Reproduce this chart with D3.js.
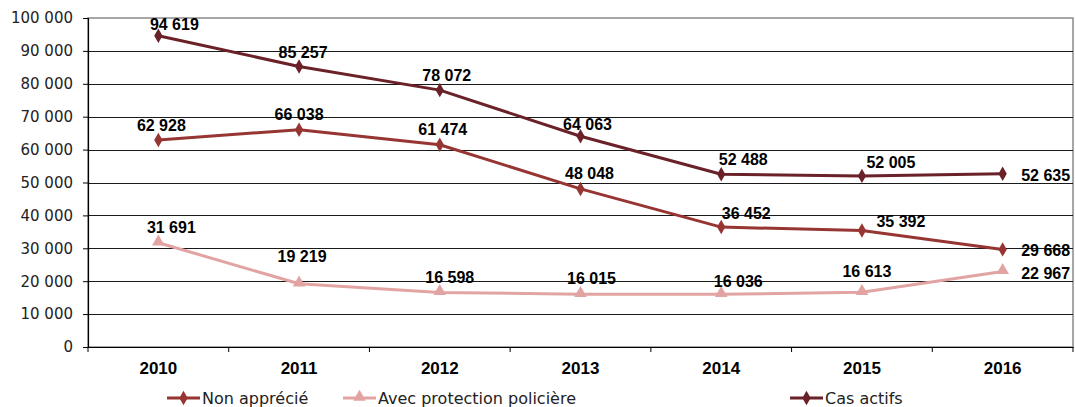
<!DOCTYPE html>
<html>
<head>
<meta charset="utf-8">
<script src="https://cdn.jsdelivr.net/npm/d3@7"></script>
<style>
  html, body { margin: 0; padding: 0; background: #fff; }
  svg { display: block; }
</style>
</head>
<body>
<svg id="chart" width="1075" height="407"></svg>
<script>
// ---- data ----
const years = ["2010", "2011", "2012", "2013", "2014", "2015", "2016"];
const nonApprecie = [62928, 66038, 61474, 48048, 36452, 35392, 29668];
const avecProtection = [31691, 19219, 16598, 16015, 16036, 16613, 22967];
const casActifs = [94619, 85257, 78072, 64063, 52488, 52005, 52635];
const yTicks = [0, 10000, 20000, 30000, 40000, 50000, 60000, 70000, 80000, 90000, 100000];
const seriesNames = ["Non apprécié", "Avec protection policière", "Cas actifs"];

// ---- layout / style ----
const plot = { left: 88, right: 1073, top: 18, bottom: 347 };
const colors = { non: "#973533", avec: "#E2A4A3", cas: "#6A2127" };
// label offsets from point (dx, dy) for each series
const offNon = [[3,-14],[0,-15],[3,-15],[9,-15],[25,-14],[39,-9],[43,1]];
const offAvec = [[13,-15],[3,-27],[10,-15],[11,-16],[17,-13],[5,-21],[43,2]];
const offCas = [[16,-11],[4,-14],[7,-15],[7,-12],[22,-15],[29,-13],[43,2]];

const svg = d3.select("#chart");
const fmt = v => d3.format(",")(v).replace(/,/g, " ");
const labelFont = "Liberation Sans, Arial, sans-serif";

const x = d3.scaleBand().domain(years).range([plot.left, plot.right]).padding(0);
const xc = d => x(d) + x.bandwidth() / 2;
const y = d3.scaleLinear().domain([0, 100000]).range([plot.bottom, plot.top]);

// plot border (top/right grey)
svg.append("rect")
  .attr("x", plot.left).attr("y", plot.top)
  .attr("width", plot.right - plot.left).attr("height", plot.bottom - plot.top)
  .attr("fill", "none").attr("stroke", "#8a8a8a").attr("stroke-width", 1.5);

// gridlines
svg.append("g").selectAll("line").data(yTicks.filter(t => t > 0 && t < 100000)).join("line")
  .attr("x1", plot.left).attr("x2", plot.right)
  .attr("y1", d => Math.round(y(d)) + 0.5).attr("y2", d => Math.round(y(d)) + 0.5)
  .attr("stroke", "#1a1a1a").attr("stroke-width", 1);

// y axis
const yAxis = d3.axisLeft(y).tickValues(yTicks).tickSize(5).tickPadding(10).tickFormat(fmt);
const gy = svg.append("g").attr("transform", `translate(${plot.left},0)`).call(yAxis);
gy.select(".domain").attr("stroke", "#000").attr("stroke-width", 1.2);
gy.selectAll(".tick line").attr("stroke", "#000");
gy.selectAll(".tick text").attr("font-family", "DejaVu Sans, sans-serif").attr("font-size", 15).attr("fill", "#222");

// x axis
const xAxis = d3.axisBottom(x).tickSize(0).tickPadding(15);
const gx = svg.append("g").attr("transform", `translate(0,${plot.bottom})`).call(xAxis);
gx.select(".domain").attr("stroke", "#000").attr("stroke-width", 1.2);
gx.selectAll(".tick text").attr("font-family", labelFont).attr("font-size", 17)
  .attr("font-weight", "bold").attr("fill", "#000");
// category boundary ticks
svg.append("g").selectAll("line").data(years.concat(["end"])).join("line")
  .attr("x1", (d, i) => plot.left + i * x.bandwidth()).attr("x2", (d, i) => plot.left + i * x.bandwidth())
  .attr("y1", plot.bottom).attr("y2", plot.bottom + 5)
  .attr("stroke", "#000").attr("stroke-width", 1);

const diamond = d3.symbol().type(d3.symbolDiamond).size(60);
const triangle = d3.symbol().type(d3.symbolTriangle).size(70);

function drawSeries(vals, color, sym, offs) {
  const line = d3.line().x((d, i) => xc(years[i])).y(d => y(d));
  svg.append("path").datum(vals).attr("d", line)
    .attr("fill", "none").attr("stroke", color).attr("stroke-width", 3).attr("stroke-linejoin", "round");
  svg.append("g").selectAll("path").data(vals).join("path")
    .attr("d", sym)
    .attr("transform", (d, i) => `translate(${xc(years[i])},${y(d) + (sym === triangle ? -1 : 0)})`)
    .attr("fill", color);
  svg.append("g").selectAll("text").data(vals).join("text")
    .attr("x", (d, i) => xc(years[i]) + offs[i][0])
    .attr("y", (d, i) => y(d) + offs[i][1])
    .attr("text-anchor", "middle").attr("dominant-baseline", "central")
    .attr("font-family", labelFont).attr("font-weight", "bold").attr("font-size", 16)
    .attr("fill", "#000")
    .text(d => fmt(d));
}

drawSeries(avecProtection, colors.avec, triangle, offAvec);
drawSeries(nonApprecie, colors.non, diamond, offNon);
drawSeries(casActifs, colors.cas, diamond, offCas);

// legend
const legendItems = [
  { name: seriesNames[0], color: colors.non, sym: diamond, x: 167 },
  { name: seriesNames[1], color: colors.avec, sym: triangle, x: 343 },
  { name: seriesNames[2], color: colors.cas, sym: diamond, x: 790 }
];
const ly = 398;
const lg = svg.append("g");
legendItems.forEach(it => {
  lg.append("line").attr("x1", it.x).attr("x2", it.x + 33).attr("y1", ly).attr("y2", ly)
    .attr("stroke", it.color).attr("stroke-width", 3);
  lg.append("path").attr("d", it.sym).attr("transform", `translate(${it.x + 16.5},${ly - (it.sym === triangle ? 1 : 0)})`).attr("fill", it.color);
  lg.append("text").attr("x", it.x + 35).attr("y", ly).attr("dominant-baseline", "central")
    .attr("font-family", "DejaVu Sans, sans-serif").attr("font-size", 16).attr("fill", "#222")
    .text(it.name);
});
</script>
</body>
</html>
